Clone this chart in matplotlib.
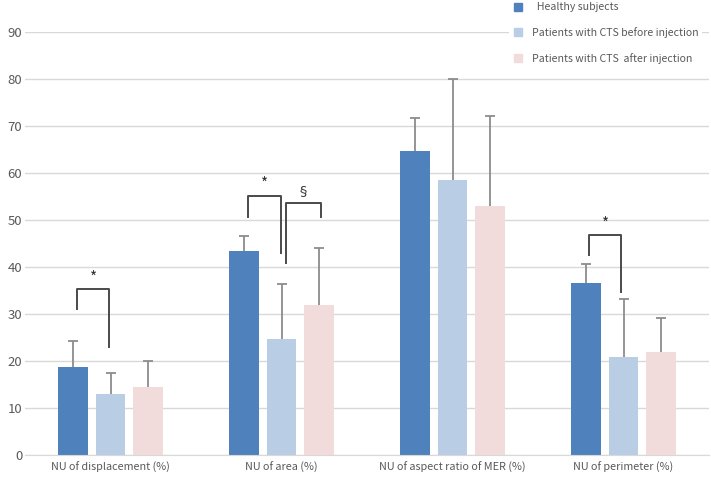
import numpy as np
import matplotlib
matplotlib.use('Agg')
import matplotlib.pyplot as plt
from matplotlib.lines import Line2D

plt.rcParams['font.family'] = ['Noto Sans CJK KR', 'DejaVu Sans']

categories = ['NU of displacement (%)', 'NU of area (%)',
              'NU of aspect ratio of MER (%)', 'NU of perimeter (%)']
series = ['  Healthy subjects', 'Patients with CTS before injection',
          'Patients with CTS  after injection']
healthy = [18.7, 43.3, 64.6, 36.5]
before = [13.0, 24.6, 58.5, 20.8]
after = [14.5, 32.0, 53.0, 22.0]
healthy_err = [5.6, 3.4, 7.0, 4.1]
before_err = [4.5, 11.8, 21.5, 12.4]
after_err = [5.5, 12.0, 19.2, 7.2]

# significance brackets: (x left, x right, left leg bottom, top, right leg bottom, symbol)
brackets = [
    (-0.196, -0.007, 31.0, 35.3, 23.0, '*'),
    (0.804, 0.997, 50.7, 55.2, 42.9, '*'),
    (1.026, 1.229, 40.8, 53.7, 50.7, '§'),
    (2.80, 2.985, 42.5, 46.9, 34.7, '*'),
]

colors = ['#4F81BD', '#B9CDE5', '#F2DCDB']
text_col = '#595959'

fig = plt.figure(figsize=(7.11, 4.79), dpi=100)
ax = fig.add_axes([25 / 711, 24 / 479, 684 / 711, 423 / 479])

x = np.arange(len(categories))
w = 0.175
step = 0.222
for k, (vals, errs) in enumerate([(healthy, healthy_err), (before, before_err), (after, after_err)]):
    pos = x + (k - 1) * step
    vals = np.array(vals)
    tops = vals + np.array(errs)
    ax.bar(pos, vals, w, color=colors[k], zorder=2)
    # one-sided error bars, cap only at the top
    ax.vlines(pos, vals, tops, color='#8c8c8c', lw=1.3, zorder=3)
    ax.plot(pos, tops, ls='none', marker='_', markersize=6.5, mew=1.3,
            color='#8c8c8c', zorder=3)

for xl, xr, bl, top, br, sym in brackets:
    ax.plot([xl, xl, xr, xr], [bl, top, top, br], color='#4a4a4a', lw=1.4, zorder=4)
    fs = 11 if sym == '*' else 9.5
    ax.text((xl + xr) / 2, top + 2.3, sym, ha='center', va='center',
            fontsize=fs, color='#333333', zorder=4)

ax.set_xlim(-0.5, 3.5)
ax.set_ylim(0, 90)
ax.set_yticks(np.arange(0, 91, 10))
ax.yaxis.grid(True, color='#d9d9d9', lw=1)
ax.set_axisbelow(True)
ax.set_xticks(x)
ax.set_xticklabels(categories)
ax.tick_params(axis='x', length=0, labelsize=7.8, colors=text_col, pad=5)
ax.tick_params(axis='y', length=0, labelsize=9.5, colors=text_col, pad=2)
for s in ['top', 'right', 'left']:
    ax.spines[s].set_visible(False)
ax.spines['bottom'].set_color('#d9d9d9')

handles = [Line2D([], [], marker='s', ls='none', markersize=5.5, color=c) for c in colors]
leg = fig.legend(handles, series, loc='upper left', bbox_to_anchor=(504 / 711, 1.013),
                 frameon=True, facecolor='white', edgecolor='none', framealpha=1,
                 fontsize=7.6, labelcolor=text_col, handlelength=1.0,
                 handletextpad=0.9, labelspacing=1.4, borderpad=0.3)

fig.savefig('out.png', dpi=100)
